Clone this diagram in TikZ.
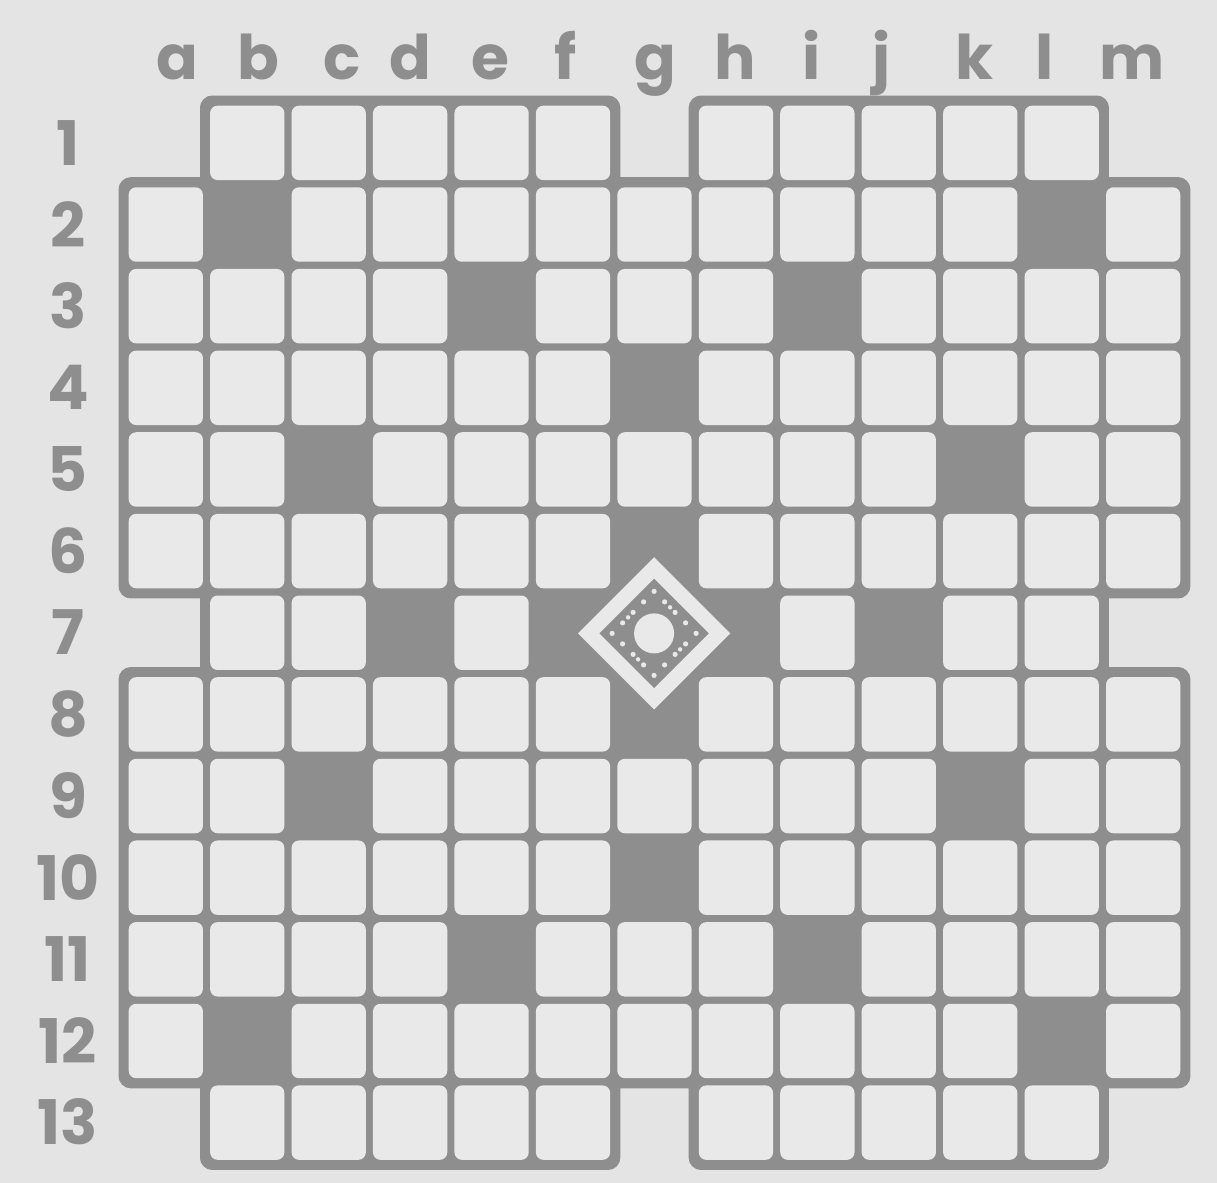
\documentclass[tikz,border=0pt]{standalone}
\usepackage{fontspec}
\usetikzlibrary{calc}
\setmainfont{Poppins}
\definecolor{paper}{HTML}{E4E4E4}
\definecolor{cellc}{HTML}{E9E9E9}
\definecolor{ink}{HTML}{8E8E8E}
\begin{document}
\begin{tikzpicture}[x=0.01cm,y=-0.01cm,
  lab/.style={text=ink, font=\fontsize{17.5}{21}\selectfont\bfseries, inner sep=0pt},
  cellbox/.style={fill=cellc, rounded corners=0.075cm},
  dot/.style={fill=cellc}]
\fill[paper] (0,0) rectangle (1217,1183);
\useasboundingbox (0,0) rectangle (1217,1183);

\begin{scope}[xshift=1.25cm,yshift=-1.02cm,x=0.814cm,y=-0.816cm]
  % board body
  \filldraw[ink, line width=0.13cm, rounded corners=0.06cm]
    (3,0) -- (6,0) -- (6,1) -- (7,1) -- (7,0) -- (12,0) -- (12,1) -- (13,1)
    -- (13,6) -- (12,6) -- (12,7) -- (13,7) -- (13,12) -- (12,12) -- (12,13)
    -- (7,13) -- (7,12) -- (6,12) -- (6,13) -- (1,13) -- (1,12) -- (0,12)
    -- (0,7) -- (1,7) -- (1,6) -- (0,6) -- (0,1) -- (1,1) -- (1,0) -- cycle;
  % light squares
  \foreach \r/\cols in {
     0/{1,2,3,4,5,7,8,9,10,11},
     1/{0,2,3,4,5,6,7,8,9,10,12},
     2/{0,1,2,3,5,6,7,9,10,11,12},
     3/{0,1,2,3,4,5,7,8,9,10,11,12},
     4/{0,1,3,4,5,6,7,8,9,11,12},
     5/{0,1,2,3,4,5,7,8,9,10,11,12},
     6/{1,2,4,8,10,11},
     7/{0,1,2,3,4,5,7,8,9,10,11,12},
     8/{0,1,3,4,5,6,7,8,9,11,12},
     9/{0,1,2,3,4,5,7,8,9,10,11,12},
     10/{0,1,2,3,5,6,7,9,10,11,12},
     11/{0,2,3,4,5,6,7,8,9,10,12},
     12/{1,2,3,4,5,7,8,9,10,11}}{
    \foreach \c in \cols {
      \path[cellbox] ({\c+0.044},{\r+0.044}) rectangle ({\c+1-0.044},{\r+1-0.044});
    }
  }
\end{scope}

% centre diamond on g7
\coordinate (ctr) at (654.1,633.4);
\draw[cellc, line width=0.15cm, line join=miter]
  ([yshift=0.655cm]ctr) -- ([xshift=0.655cm]ctr) -- ([yshift=-0.655cm]ctr) -- ([xshift=-0.655cm]ctr) -- cycle;
\fill[cellc] (ctr) circle (0.2cm);
\foreach \a in {0,90,180,270}{
  \begin{scope}[rotate around={\a:(ctr)}]
    \foreach \f in {0,0.25,0.5,0.75}{
      \fill[dot] ($(ctr)+({42*\f},{-42+42*\f})$) circle (0.026cm);
    }
    \fill[dot] ($(ctr)+(16,-26)$) circle (0.022cm);
  \end{scope}
}

% column letters
\foreach \l/\x in {a/177,b/258,c/342,d/410,e/490,f/566,g/655,h/735,i/812,j/882,k/975,l/1045,m/1132}{
  \node[lab, anchor=base] (col-\l) at (\x,80) {\l};
}
% row numbers
\foreach \n in {1,...,13}{
  \node[lab] (row-\n) at (68,{102+81.6*(\n-0.5)}) {\n};
}
\end{tikzpicture}
\end{document}
